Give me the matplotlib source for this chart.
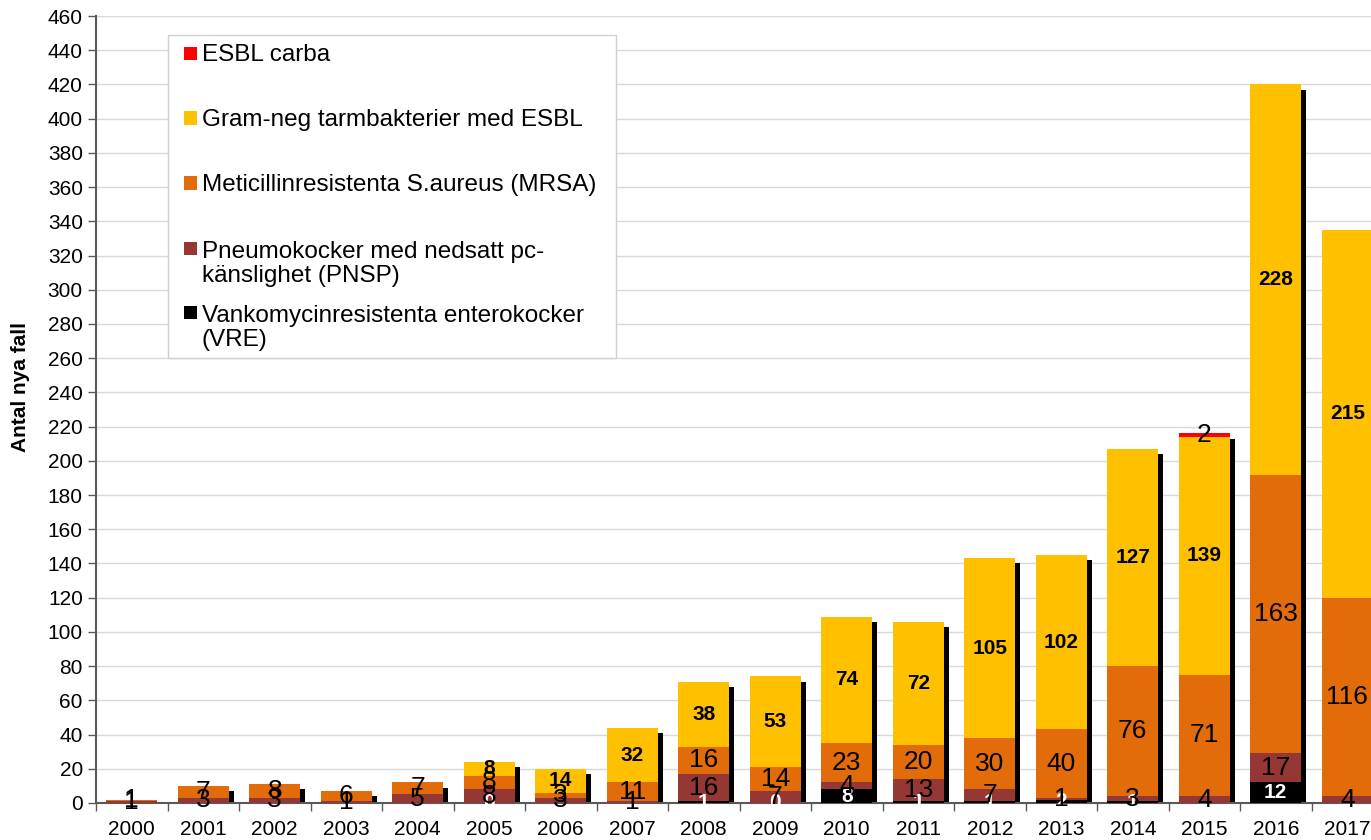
import numpy as np
import matplotlib
matplotlib.use("Agg")
import matplotlib.pyplot as plt
from matplotlib.patches import Rectangle

plt.rcParams['font.family'] = ['Liberation Sans', 'DejaVu Sans']

# Data (antal nya fall per år)
years = [str(y) for y in range(2000, 2018)]
vre = [np.nan, np.nan, np.nan, np.nan, np.nan, 0, np.nan, np.nan, 1, 0, 8, 1, 1, 2, 1, np.nan, 12, np.nan]
pnsp = [1, 3, 3, 1, 5, 8, 3, 1, 16, 7, 4, 13, 7, 1, 3, 4, 17, 4]
mrsa = [1, 7, 8, 6, 7, 8, 3, 11, 16, 14, 23, 20, 30, 40, 76, 71, 163, 116]
esbl = [np.nan, np.nan, np.nan, np.nan, np.nan, 8, 14, 32, 38, 53, 74, 72, 105, 102, 127, 139, 228, 215]
carba = [np.nan] * 15 + [2, np.nan, np.nan]

serier = [
    ("Vankomycinresistenta enterokocker\n(VRE)", vre, "#000000", "white", "bold"),
    ("Pneumokocker med nedsatt pc-\nkänslighet (PNSP)", pnsp, "#953735", "black", "normal"),
    ("Meticillinresistenta S.aureus (MRSA)", mrsa, "#E26B0A", "black", "normal"),
    ("Gram-neg tarmbakterier med ESBL", esbl, "#FFC000", "black", "bold"),
    ("ESBL carba", carba, "#FF0000", "black", "normal"),
]

fig = plt.figure(figsize=(13.71, 8.40), dpi=100)
W, H = 1371, 840
x0, y0, y1 = 96, 803, 16
cat_w = 71.5
n = len(years)
ax = fig.add_axes([x0 / W, 1 - y0 / H, n * cat_w / W, (y0 - y1) / H])

x = np.arange(n)
bredd = 0.72

# skugga bakom staplarna
totals = np.zeros(n)
for _, vals, _, _, _ in serier:
    totals += np.nan_to_num(np.array(vals, dtype=float))
ax.bar(x + 0.065, totals - 3, width=bredd, color="black", zorder=2)

bottom = np.zeros(n)
for namn, vals, farg, tfarg, vikt in serier:
    v = np.array(vals, dtype=float)
    h = np.nan_to_num(v)
    ax.bar(x, h, width=bredd, bottom=bottom, color=farg, zorder=3, linewidth=0)
    storlek = 15 if vikt == "bold" else 19
    for i in range(n):
        if np.isnan(v[i]):
            continue
        ax.text(x[i], bottom[i] + h[i] / 2, f"{int(v[i])}", ha="center", va="center",
                color=tfarg, fontsize=storlek, fontweight=vikt, zorder=5, clip_on=False)
    bottom += h

ax.set_ylim(0, 460)
ax.set_xlim(-0.5, n - 0.5)
ax.set_yticks(range(0, 461, 20))
ax.set_xticks(x)
ax.set_xticklabels(years)
ax.set_xticks(np.arange(-0.5, n, 1), minor=True)
ax.tick_params(axis="x", which="major", length=0, labelsize=15, pad=12)
ax.tick_params(axis="x", which="minor", length=6, width=1, color="#595959")
ax.tick_params(axis="y", length=6, width=1, color="#595959", labelsize=15)
ax.grid(axis="y", color="#d9d9d9", linewidth=1, zorder=0)
ax.set_axisbelow(True)
for s in ["top", "right"]:
    ax.spines[s].set_visible(False)
for s in ["left", "bottom"]:
    ax.spines[s].set_color("#595959")
    ax.spines[s].set_linewidth(1.5)
ax.set_ylabel("Antal nya fall", fontsize=15, fontweight="bold")
ax.yaxis.set_label_coords((30 - x0) / (n * cat_w), (y0 - 387) / (y0 - y1))

# förklaring (ritad för hand för att få Excel-avstånden)
fig.patches.append(Rectangle((168 / W, 1 - 358 / H), (616 - 168) / W, (358 - 35) / H,
                             transform=fig.transFigure, facecolor="white",
                             edgecolor="#d0d0d0", linewidth=1, zorder=10))
rad_y = [53, 118, 183, 248, 312]
for (namn, _, farg, _, _), yy in zip(reversed(serier), rad_y):
    fig.patches.append(Rectangle((184 / W, 1 - (yy + 6.5) / H), 13 / W, 13 / H,
                                 transform=fig.transFigure, facecolor=farg,
                                 edgecolor="none", zorder=11))
    rader = namn.count("\n") + 1
    mitt = yy + 2 + (rader - 1) * 28 / 2
    fig.text(202 / W, 1 - mitt / H, namn, ha="left", va="center", fontsize=17.5,
             linespacing=1.15, zorder=12)

fig.savefig("out.png", dpi=100)
